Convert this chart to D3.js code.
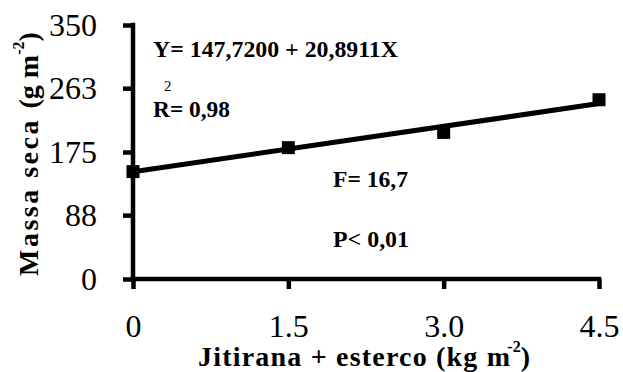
<!DOCTYPE html>
<html>
<head>
<meta charset="utf-8">
<script src="https://cdn.jsdelivr.net/npm/d3@7"></script>
<style>
  html, body { margin: 0; padding: 0; background: #fff; }
  svg { display: block; font-family: "Liberation Serif", "Times New Roman", serif; }
</style>
</head>
<body>
<svg id="chart" width="623" height="372"></svg>
<script>
// dose of jitirana + manure (kg m-2)
const doses = [0, 1.5, 3.0, 4.5];
// observed dry mass (g m-2)
const massa = [148, 181, 202, 247];
const xTicks = [0, 1.5, 3.0, 4.5];
const xTickLabels = ['0', '1.5', '3.0', '4.5'];
const yTicks = [0, 88, 175, 263, 350];
// fitted model Y = a + bX
const intercept = 147.72;
const slope = 20.8911;

const svg = d3.select('#chart');

const x = d3.scaleLinear().domain([0, 4.5]).range([133, 599]);
const y = d3.scaleLinear().domain([0, 350]).range([279, 25]);

const axisStroke = 4.5;

// y axis
const yAxis = svg.append('g')
  .attr('transform', `translate(${x(0)},0)`)
  .call(d3.axisLeft(y).tickValues(yTicks).tickSize(10).tickPadding(26).tickFormat(d3.format('d')));

// x axis
const xAxis = svg.append('g')
  .attr('transform', `translate(0,${y(0)})`)
  .call(d3.axisBottom(x).tickValues(xTicks).tickSize(10).tickPadding(25)
    .tickFormat((d, i) => xTickLabels[i]));

[yAxis, xAxis].forEach(g => {
  g.select('.domain').remove();
  g.selectAll('.tick line').attr('stroke', '#000').attr('stroke-width', axisStroke);
  g.selectAll('.tick text')
    .attr('fill', '#000')
    .style('font-family', '"Liberation Serif", serif')
    .style('font-size', '32px');
});

// axis lines drawn as one thick path so the corner meets
svg.append('path')
  .attr('d', `M${x(0)},${y(350)}V${y(0)}H${x(4.5)}`)
  .attr('fill', 'none')
  .attr('stroke', '#000')
  .attr('stroke-width', axisStroke)
  .attr('stroke-linecap', 'square');

// regression line
svg.append('line')
  .attr('x1', x(0)).attr('y1', y(intercept))
  .attr('x2', x(4.5)).attr('y2', y(intercept + slope * 4.5))
  .attr('stroke', '#000')
  .attr('stroke-width', 5);

// observed points
const s = 13;
svg.selectAll('rect.pt')
  .data(doses)
  .enter().append('rect')
  .attr('class', 'pt')
  .attr('x', d => x(d) - s / 2)
  .attr('y', (d, i) => y(massa[i]) - s / 2)
  .attr('width', s)
  .attr('height', s)
  .attr('fill', '#000');

// annotations
const ann = svg.append('g').attr('font-weight', 'bold').attr('fill', '#000').attr('font-size', 24);

ann.append('text').attr('x', 153).attr('y', 57)
  .attr('textLength', 245).attr('lengthAdjust', 'spacingAndGlyphs')
  .text('Y= 147,7200 + 20,8911X');

ann.append('text').attr('x', 153).attr('y', 117)
  .attr('textLength', 77).attr('lengthAdjust', 'spacingAndGlyphs')
  .text('R= 0,98');
ann.append('text').attr('x', 164).attr('y', 91).attr('font-size', 15).attr('font-weight', 'normal').text('2');

ann.append('text').attr('x', 333).attr('y', 187)
  .attr('textLength', 75).attr('lengthAdjust', 'spacingAndGlyphs')
  .text('F= 16,7');

ann.append('text').attr('x', 333).attr('y', 247)
  .attr('textLength', 76).attr('lengthAdjust', 'spacingAndGlyphs')
  .text('P< 0,01');

// x axis title
const xt = svg.append('text')
  .attr('x', 198).attr('y', 366)
  .attr('font-weight', 'bold').attr('font-size', 28)
  .attr('fill', '#000');
xt.append('tspan').attr('letter-spacing', 1.2).text('Jitirana + esterco (kg m');
xt.append('tspan').attr('font-size', 16).attr('dy', -14).attr('dx', -4).text('-2');
xt.append('tspan').attr('dy', 14).text(')');

// y axis title
const yt = svg.append('text')
  .attr('transform', 'translate(38,276) rotate(-90)')
  .attr('font-weight', 'bold').attr('font-size', 28)
  .attr('fill', '#000');
yt.append('tspan').attr('letter-spacing', 2.5).text('Massa seca ');
yt.append('tspan').text('(g m');
yt.append('tspan').attr('font-size', 16).attr('dy', -14).text('-2');
yt.append('tspan').attr('dy', 14).text(')');
</script>
</body>
</html>
